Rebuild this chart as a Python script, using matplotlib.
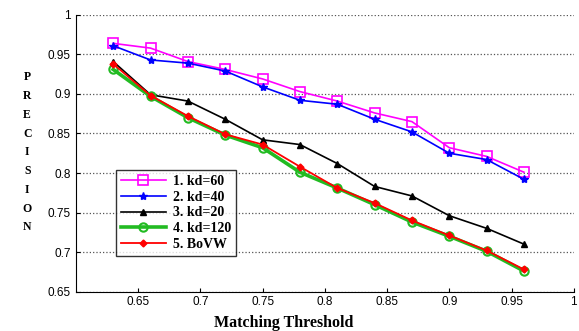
import matplotlib
matplotlib.use('Agg')
import matplotlib.pyplot as plt
import numpy as np

# matching threshold on x, precision on y
thresholds = [0.63, 0.66, 0.69, 0.72, 0.75, 0.78, 0.81, 0.84, 0.87, 0.90, 0.93, 0.96]
kd60 = [0.964, 0.958, 0.941, 0.931, 0.919, 0.903, 0.891, 0.876, 0.865, 0.832, 0.821, 0.801]
kd40 = [0.961, 0.943, 0.939, 0.929, 0.909, 0.892, 0.887, 0.868, 0.852, 0.825, 0.817, 0.792]
kd20 = [0.941, 0.899, 0.891, 0.868, 0.842, 0.836, 0.812, 0.783, 0.771, 0.746, 0.730, 0.710]
kd120 = [0.931, 0.897, 0.870, 0.848, 0.832, 0.801, 0.781, 0.760, 0.738, 0.720, 0.701, 0.676]
bovw = [0.938, 0.898, 0.872, 0.849, 0.836, 0.808, 0.781, 0.762, 0.740, 0.721, 0.702, 0.678]
labels = ['1. kd=60', '2. kd=40', '3. kd=20', '4. kd=120', '5. BoVW']

serif = ['Liberation Serif', 'DejaVu Serif']
plt.rcParams['font.family'] = ['Liberation Sans', 'DejaVu Sans']

fig = plt.figure(figsize=(5.79, 3.31), dpi=100)
ax = fig.add_axes([0.131, 0.119, 0.860, 0.836])

ax.plot(thresholds, kd60, color='#ff00ff', lw=1.2, marker='s', ms=7.5, mfc='none', mew=1.2, label=labels[0])
ax.plot(thresholds, kd40, color='#0000ff', lw=1.2, marker='*', ms=6, label=labels[1])
ax.plot(thresholds, kd20, color='black', lw=1.2, marker='^', ms=4, label=labels[2])
ax.plot(thresholds, kd120, color='#22bb22', lw=2.6, marker='o', ms=6, mfc='none', mew=1.5, label=labels[3])
ax.plot(thresholds, bovw, color='#ff0000', lw=1.3, marker='D', ms=3.5, label=labels[4])

ax.set_xlim(0.6, 1.0)
ax.set_ylim(0.65, 1.0)
ax.set_xticks(np.arange(0.65, 1.001, 0.05))
ax.set_xticklabels(['0.65', '0.7', '0.75', '0.8', '0.85', '0.9', '0.95', '1'])
ax.set_yticks(np.arange(0.65, 1.001, 0.05))
ax.set_yticklabels(['0.65', '0.7', '0.75', '0.8', '0.85', '0.9', '0.95', '1'])
ax.tick_params(direction='in', length=3, labelsize=8.5, top=False, right=False)
ax.yaxis.grid(True, linestyle=':', color='#555555', lw=0.9)
ax.spines['top'].set_visible(False)
ax.spines['right'].set_visible(False)

ax.set_xlabel('Matching Threshold', family=serif, fontweight='bold', fontsize=11.5, labelpad=5, x=0.418)
fig.text(0.047, 0.54, '\n'.join('PRECISION'), family=serif, fontweight='bold', fontsize=8.5,
         ha='center', va='center', linespacing=1.75)

leg = ax.legend(loc='lower left', bbox_to_anchor=(0.08, 0.129), prop={'family': serif, 'weight': 'bold', 'size': 10},
                handlelength=3.3, frameon=True, fancybox=False, edgecolor='black', borderpad=0.35,
                labelspacing=0.2, handletextpad=0.5, borderaxespad=0)
leg.get_frame().set_linewidth(1.0)

fig.savefig('out.png', dpi=100)
